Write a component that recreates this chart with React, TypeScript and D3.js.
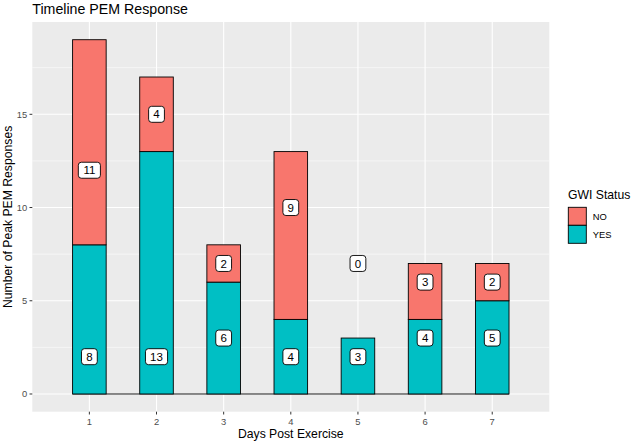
import * as d3 from 'd3'

const days = ['1', '2', '3', '4', '5', '6', '7']
const yesCounts = [8, 13, 6, 4, 3, 4, 5]
const noCounts = [11, 4, 2, 9, 0, 3, 2]
// where the count labels sit (y value)
const yesLabelY = [2, 2, 3, 2, 2, 3, 3]
const noLabelY = [12, 15, 7, 10, 7, 6, 6]
const yTicks = [0, 5, 10, 15]
const yMinor = [2.5, 7.5, 12.5, 17.5]
const legendKeys = ['NO', 'YES']

const W = 631
const H = 443
const PANEL = { left: 32.3, right: 549.3, top: 22, bottom: 411.7 }
const FONT = "'Liberation Sans', Arial, Helvetica, sans-serif"
const NO_COLOR = '#F8766D'
const YES_COLOR = '#00BFC4'
const PANEL_BG = '#EBEBEB'
const TICK_TEXT = '#4D4D4D'
const BAR_W = 0.5

export default function App() {
  const x = d3.scaleLinear().domain([0.15, 7.85]).range([PANEL.left, PANEL.right])
  const y = d3.scaleLinear().domain([-0.95, 19.95]).range([PANEL.bottom, PANEL.top])

  const labelBox = (text: string, cx: number, cy: number, key: string) => {
    const w = text.length * 6.3 + 9.5
    const h = 16
    return (
      <g key={key}>
        <rect x={cx - w / 2} y={cy - h / 2} width={w} height={h} rx={3} ry={3}
          fill="white" stroke="black" strokeWidth={0.9} />
        <text x={cx} y={cy + 4.1} textAnchor="middle" fontSize={11.5} fontFamily={FONT} fill="black">{text}</text>
      </g>
    )
  }

  return (
    <div style={{ position: 'fixed', left: 0, top: 0, width: W, height: H, background: 'white' }}>
      <svg width={W} height={H} style={{ display: 'block' }}>
        {/* panel */}
        <rect x={PANEL.left} y={PANEL.top} width={PANEL.right - PANEL.left} height={PANEL.bottom - PANEL.top} fill={PANEL_BG} />
        {yMinor.map((v) => (
          <line key={'mi' + v} x1={PANEL.left} x2={PANEL.right} y1={y(v)} y2={y(v)} stroke="white" strokeWidth={0.55} />
        ))}
        {yTicks.map((v) => (
          <line key={'ma' + v} x1={PANEL.left} x2={PANEL.right} y1={y(v)} y2={y(v)} stroke="white" strokeWidth={1.1} />
        ))}
        {days.map((d, i) => (
          <line key={'vx' + d} x1={x(i + 1)} x2={x(i + 1)} y1={PANEL.top} y2={PANEL.bottom} stroke="white" strokeWidth={1.1} />
        ))}

        {/* baseline along zero */}
        <line x1={x(1 - BAR_W / 2)} x2={x(days.length + BAR_W / 2)} y1={y(0)} y2={y(0)} stroke="black" strokeWidth={0.9} />

        {/* stacked bars */}
        {days.map((d, i) => {
          const cx = i + 1
          const x0 = x(cx - BAR_W / 2)
          const bw = x(cx + BAR_W / 2) - x0
          const yes = yesCounts[i]
          const no = noCounts[i]
          return (
            <g key={'bar' + d}>
              {yes > 0 && (
                <rect x={x0} y={y(yes)} width={bw} height={y(0) - y(yes)} fill={YES_COLOR} stroke="black" strokeWidth={0.9} />
              )}
              {no > 0 && (
                <rect x={x0} y={y(yes + no)} width={bw} height={y(yes) - y(yes + no)} fill={NO_COLOR} stroke="black" strokeWidth={0.9} />
              )}
            </g>
          )
        })}

        {/* count labels */}
        {days.map((d, i) => labelBox(String(yesCounts[i]), x(i + 1), y(yesLabelY[i]), 'ly' + d))}
        {days.map((d, i) => labelBox(String(noCounts[i]), x(i + 1), y(noLabelY[i]), 'ln' + d))}

        {/* y axis */}
        {yTicks.map((v) => (
          <g key={'yt' + v}>
            <line x1={PANEL.left - 2.8} x2={PANEL.left} y1={y(v)} y2={y(v)} stroke="#333333" strokeWidth={1} />
            <text x={PANEL.left - 5} y={y(v) + 3.3} textAnchor="end" fontSize={9.4} fontFamily={FONT} fill={TICK_TEXT}>{v}</text>
          </g>
        ))}
        {/* x axis */}
        {days.map((d, i) => (
          <g key={'xt' + d}>
            <line x1={x(i + 1)} x2={x(i + 1)} y1={PANEL.bottom} y2={PANEL.bottom + 2.8} stroke="#333333" strokeWidth={1} />
            <text x={x(i + 1)} y={PANEL.bottom + 13.3} textAnchor="middle" fontSize={9.4} fontFamily={FONT} fill={TICK_TEXT}>{d}</text>
          </g>
        ))}

        {/* titles */}
        <text x={PANEL.left} y={14} fontSize={14.2} fontFamily={FONT} fill="black">Timeline PEM Response</text>
        <text x={(PANEL.left + PANEL.right) / 2} y={438} textAnchor="middle" fontSize={12.2} fontFamily={FONT} fill="black">Days Post Exercise</text>
        <text transform={`translate(11.5,${(PANEL.top + PANEL.bottom) / 2}) rotate(-90)`} textAnchor="middle" fontSize={12.2} fontFamily={FONT} fill="black">
          Number of Peak PEM Responses
        </text>

        {/* legend */}
        <text x={568} y={199} fontSize={12.2} fontFamily={FONT} fill="black">GWI Status</text>
        {legendKeys.map((k, i) => (
          <g key={'lg' + k}>
            <rect x={568.3} y={207.3 + i * 18} width={18} height={18} fill={k === 'NO' ? NO_COLOR : YES_COLOR} stroke="black" strokeWidth={0.9} />
            <text x={592.7} y={207.3 + i * 18 + 12.4} fontSize={9.4} fontFamily={FONT} fill="black">{k}</text>
          </g>
        ))}
      </svg>
    </div>
  )
}
